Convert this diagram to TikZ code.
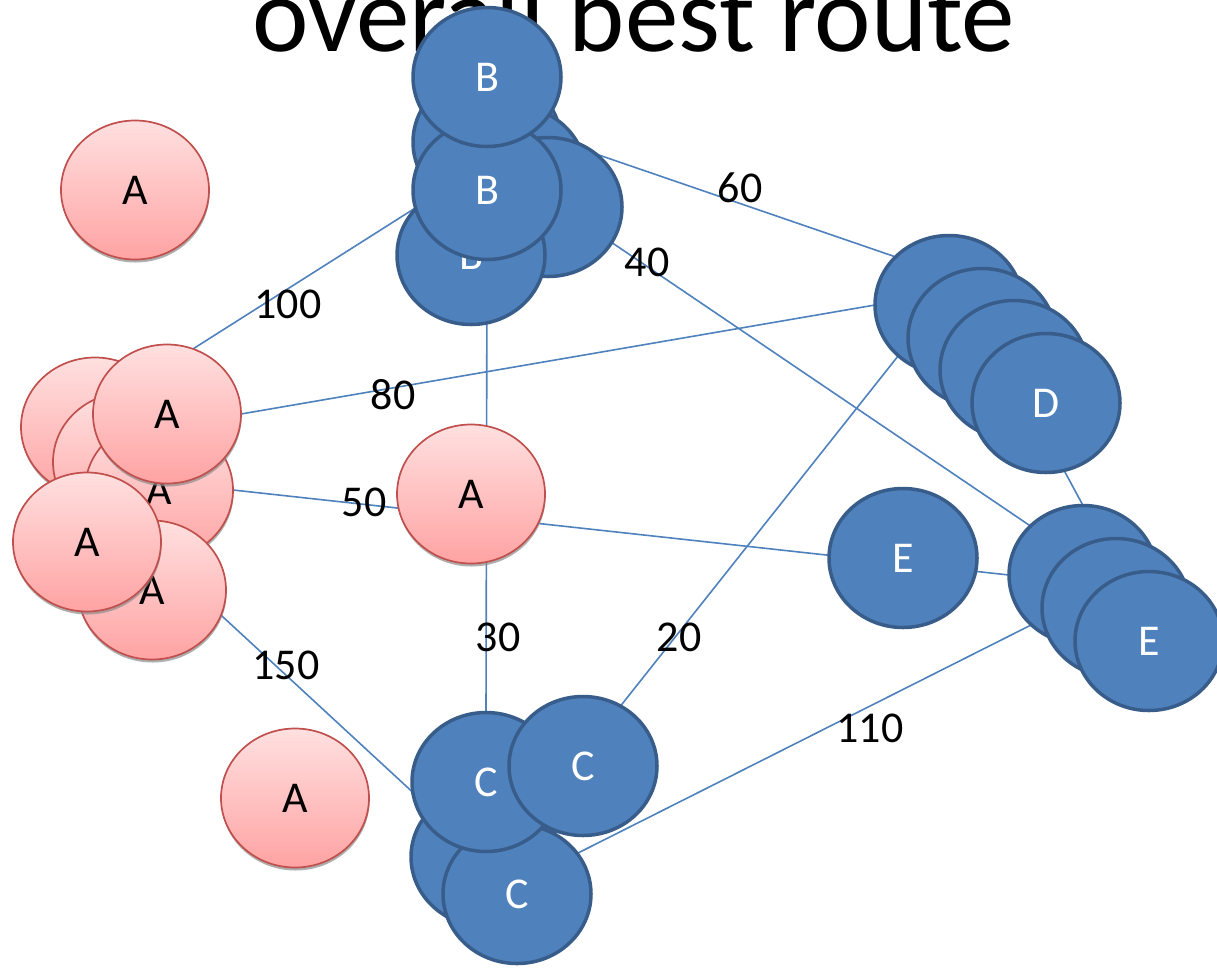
\documentclass[tikz,border=0pt]{standalone}
\usepackage{fontspec}
\setmainfont{Carlito}
\usetikzlibrary{shapes.geometric,shadows}
\definecolor{nodeblue}{HTML}{4F81BD}
\definecolor{nodeborder}{HTML}{385D8A}
\definecolor{pinkborder}{HTML}{C0504D}
\definecolor{pinktop}{HTML}{FFE0E0}
\definecolor{pinkbot}{HTML}{FFA3A3}
\pgfdeclarelayer{bg}
\pgfsetlayers{bg,main}
\tikzset{
  basenode/.style={ellipse, minimum width=148pt, minimum height=139pt, inner sep=0pt, outer sep=0pt, font=\fontsize{44}{48}\selectfont},
  bluenode/.style={basenode, fill=nodeblue, draw=nodeborder, line width=3.5pt, text=white},
  pinknode/.style={basenode, draw=pinkborder, line width=1.7pt, top color=pinktop, bottom color=pinkbot, text=black,
    drop shadow={shadow xshift=0.5pt, shadow yshift=-3pt, fill=black!45, opacity=0.7}},
  edgeline/.style={draw=nodeblue, line width=1.6pt},
  weight/.style={font=\fontsize{44}{48}\selectfont, text=black, inner sep=0pt},
}
\begin{document}
\begin{tikzpicture}[x=1pt,y=-1pt]
\useasboundingbox (0,0) rectangle (1217,967);
% title
\node[anchor=base, inner sep=0pt, font=\fontsize{107}{112}\selectfont] (title) at (634,51) {overall best route};
% pink A nodes
\node[pinknode] (A1) at (135,190) {A};
\node[pinknode] (A2) at (295,798) {A};
\node[pinknode] (Am) at (471,494) {A};
\node[pinknode] (Aa) at (95,427) {};
\node[pinknode] (Ab) at (127,462) {};
\node[pinknode] (Ac) at (159,490) {A};
\node[pinknode] (Ad) at (167,414) {A};
\node[pinknode] (Ae) at (152,590) {A};
\node[pinknode] (Af) at (87,542) {A};
% B cluster
\node[bluenode] (H1) at (487,142) {};
\node[bluenode] (H2) at (512,175) {};
\node[bluenode] (R) at (548,207) {};
\node[bluenode] (Bot) at (471,255) {B};
\node[bluenode] (B2) at (487,190) {B};
\node[bluenode] (B1) at (487,77) {B};
% D cluster
\node[bluenode] (D1) at (949,305) {};
\node[bluenode] (D2) at (982,338) {};
\node[bluenode] (D3) at (1014,370) {};
\node[bluenode] (D4) at (1046,403) {D};
% E nodes
\node[bluenode] (El) at (903,558) {E};
\node[bluenode] (E1) at (1083,575) {};
\node[bluenode] (E2) at (1116,608) {};
\node[bluenode] (E3) at (1149,641) {E};
% C cluster
\node[bluenode] (Cback) at (485,857) {};
\node[bluenode] (Cb) at (517,894) {C};
\node[bluenode] (Cl) at (486,782) {C};
\node[bluenode] (Cr) at (583,766) {C};
% edges behind nodes
\begin{pgfonlayer}{bg}
\draw[edgeline] (Aa.north east) -- (Bot.north west);
\draw[edgeline] (Ad.east) -- (D1.west);
\draw[edgeline] (Ac.east) -- (E1.west);
\draw[edgeline] (B2.south) -- (Cl.north);
\draw[edgeline] (Ae.-20) -- (Cl.188);
\draw[edgeline] (H1.east) -- (D1.138);
\draw[edgeline] (H2.center) -- (E1.137);
\draw[edgeline] (Cr.58) -- (D1.225);
\draw[edgeline] (Cb.34) -- (E1.224);
\draw[edgeline] (D1.south east) -- (E1.north);
\end{pgfonlayer}
% weights
\node[weight] (w100) at (288,304) {100};
\node[weight] (w80) at (393,395) {80};
\node[weight] (w50) at (364,502) {50};
\node[weight] (w60) at (740,188) {60};
\node[weight] (w40) at (647,262) {40};
\node[weight] (w30) at (498,637) {30};
\node[weight] (w20) at (679,637) {20};
\node[weight] (w150) at (286,665) {150};
\node[weight] (w110) at (870,728) {110};
\end{tikzpicture}
\end{document}
